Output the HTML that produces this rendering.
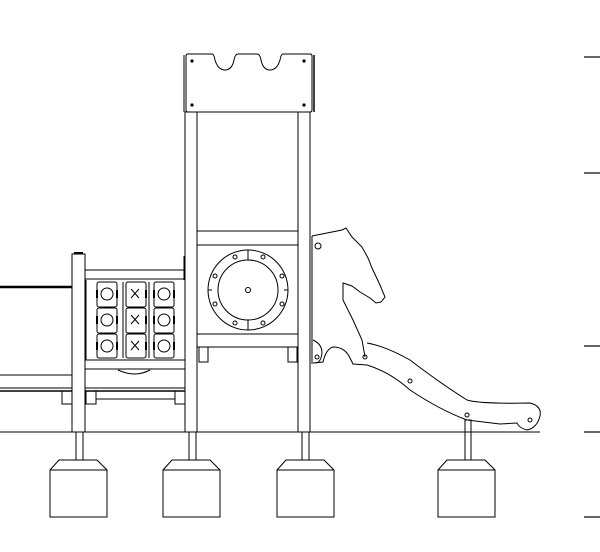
<!DOCTYPE html>
<html><head><meta charset="utf-8"><style>html,body{margin:0;padding:0;background:#fff}svg{display:block}</style></head>
<body>
<svg width="600" height="552" viewBox="0 0 600 552" xmlns="http://www.w3.org/2000/svg" fill="none" stroke="#000" stroke-width="1">
<!-- ground -->
<line x1="0" y1="432" x2="540" y2="432"/>
<!-- right ticks -->
<g stroke-width="1.2"><line x1="584" y1="57" x2="600" y2="57"/><line x1="584" y1="173" x2="600" y2="173"/><line x1="584" y1="346" x2="600" y2="346"/><line x1="584" y1="432" x2="600" y2="432"/><line x1="584" y1="517" x2="600" y2="517"/></g>
<!-- footings -->
<g fill="#fff">
<path d="M59 460 H97 L107 470 V517 H50 V470 Z M50 470 H107"/>
<path d="M172 460 H210 L220 470 V517 H163 V470 Z M163 470 H220"/>
<path d="M286 460 H324 L334 470 V517 H277 V470 Z M277 470 H334"/>
<path d="M447 460 H485 L495 470 V517 H438 V470 Z M438 470 H495"/>
</g>
<rect x="76" y="432" width="7" height="28"/>
<rect x="189" y="432" width="7" height="28"/>
<rect x="302" y="432" width="7" height="28"/>
<rect x="465" y="420" width="6" height="40"/>
<!-- left deck -->
<line x1="0" y1="287" x2="72" y2="287" stroke-width="2.5"/>
<line x1="0" y1="375" x2="72" y2="375"/>
<line x1="0" y1="388" x2="72" y2="388"/>
<line x1="0" y1="391" x2="185" y2="391" stroke-width="1.5"/>
<line x1="85" y1="388" x2="185" y2="388"/>
<line x1="96" y1="399" x2="175" y2="399"/>
<rect x="62" y="391" width="10" height="13"/>
<rect x="86" y="391" width="10" height="13"/>
<rect x="175" y="391" width="10" height="13"/>
<!-- left post -->
<rect x="72" y="254" width="13" height="178" fill="#fff"/>
<line x1="74" y1="253" x2="83" y2="253" stroke-width="2"/>
<!-- rails -->
<rect x="85" y="270" width="100" height="9"/>
<rect x="85" y="360" width="100" height="9"/>
<line x1="86" y1="280" x2="86" y2="360"/>
<line x1="184" y1="256" x2="184" y2="280"/>
<path d="M118 370 Q135 378 150 370"/>
<!-- tiles -->
<g>
<rect x="97" y="282" width="20" height="25" rx="2"/><rect x="97" y="308" width="20" height="25" rx="2"/><rect x="97" y="334" width="20" height="24" rx="2"/>
<rect x="126" y="282" width="20" height="25" rx="2"/><rect x="126" y="308" width="20" height="25" rx="2"/><rect x="126" y="334" width="20" height="24" rx="2"/>
<rect x="154" y="282" width="20" height="25" rx="2"/><rect x="154" y="308" width="20" height="25" rx="2"/><rect x="154" y="334" width="20" height="24" rx="2"/>
<circle cx="107" cy="294" r="6"/><circle cx="107" cy="320" r="6"/><circle cx="107" cy="346" r="6"/>
<circle cx="164" cy="294" r="6"/><circle cx="164" cy="320" r="6"/><circle cx="164" cy="346" r="6"/>
<g stroke-width="2"><path d="M97 290v8M117 290v8M97 316v8M117 316v8M97 342v8M117 342v8M154 290v8M174 290v8M154 316v8M174 316v8M154 342v8M174 342v8M146 290v8M146 316v8M146 342v8"/></g>
<path d="M131 289l8 9M139 289l-8 9M131 315l8 9M139 315l-8 9M131 341l8 9M139 341l-8 9"/>
<line x1="123" y1="282" x2="123" y2="358"/><line x1="149" y1="282" x2="149" y2="358"/>
</g>
<!-- tower posts -->
<rect x="185" y="112" width="12" height="320" fill="#fff"/>
<rect x="298" y="112" width="12" height="320" fill="#fff"/>
<!-- crown -->
<path d="M188 54 H212 Q214 54 215 60 Q218 70 225 70 Q232 70 234 60 Q235 54 238 54 H257 Q260 54 261 60 Q263 70 270 70 Q277 70 280 60 Q281 54 283 54 H310 Q312 54 312 56 V110 Q312 112 310 112 H188 Q186 112 186 110 V56 Q186 54 188 54 Z" fill="#fff"/>
<line x1="184" y1="55" x2="184" y2="112"/><line x1="314" y1="55" x2="314" y2="112" stroke-width="1.5"/>
<g fill="#000" stroke="none"><circle cx="192" cy="61" r="1.6"/><circle cx="304" cy="61" r="1.6"/><circle cx="192" cy="105" r="1.6"/><circle cx="304" cy="105" r="1.6"/></g>
<!-- tower panel -->
<line x1="197" y1="231" x2="298" y2="231"/><line x1="197" y1="245" x2="298" y2="245"/>
<line x1="197" y1="334" x2="298" y2="334"/><line x1="197" y1="347" x2="298" y2="347"/>
<rect x="199" y="347" width="9" height="15"/><rect x="288" y="347" width="9" height="15"/>
<circle cx="248" cy="290" r="40"/><circle cx="248" cy="290" r="30"/>
<circle cx="248" cy="290" r="2.5"/>
<g>
<circle cx="235" cy="257" r="2"/><circle cx="263" cy="257" r="2"/><circle cx="215" cy="276" r="2"/><circle cx="282" cy="276" r="2"/>
<circle cx="215" cy="304" r="2"/><circle cx="282" cy="304" r="2"/><circle cx="235" cy="323" r="2"/><circle cx="263" cy="323" r="2"/>
<path d="M248 250v10M248 320v10M208 290h4M284 290h4"/>
</g>
<!-- slide / horse -->
<line x1="312" y1="236" x2="312" y2="364"/>
<path d="M312 236 L342 230 L346 228 L352 237 L362 247 L368 258 L372 268 L380 285 L385 297 L381 302 L376 303 L370 298 L360 292 L352 286 L343 283 L343 300 L353 320 L362 340 L365 357"/>
<path d="M367 343 Q385 346 410 360 Q440 383 467 400 Q480 404 530 403 Q542 406 540 416 Q537 428 527 430 Q519 428 517 423 L500 424 L467 420 Q440 410 410 390 Q390 372 367 365 L353 364 L350 358 Q345 347 333 347 Q326 349 323 362 L313 363"/>
<path d="M313 340 Q322 344 322 353 Q321 362 316 363"/>
<g><circle cx="365" cy="357" r="2"/><circle cx="410" cy="381" r="2"/><circle cx="467" cy="415" r="2"/><circle cx="530" cy="420" r="2"/><circle cx="317" cy="357" r="2"/><circle cx="318" cy="246" r="3"/></g>
</svg>
</body></html>
